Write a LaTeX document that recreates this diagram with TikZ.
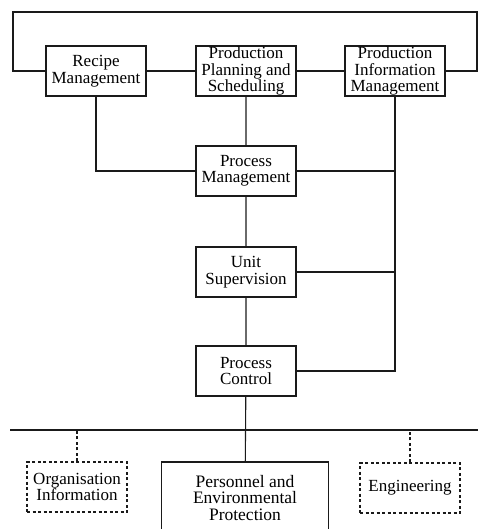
\documentclass[tikz,border=0pt]{standalone}
\usepackage{fontspec}
\setmainfont{Liberation Serif}
\usepackage{tikz}
\usetikzlibrary{positioning}
\definecolor{ink}{HTML}{1A1A1A}

\begin{document}
\begin{tikzpicture}[x=1pt, y=-1pt, line width=1.1pt, draw=ink,
  unitbox/.style={draw=ink, line width=1.1pt, inner sep=0pt, minimum width=100pt, minimum height=50pt, align=center, font=\fontsize{17}{16.5}\selectfont},
  extbox/.style={unitbox, dash pattern=on 3pt off 2.5pt},
  link/.style={draw=ink, line width=1.1pt},
  extlink/.style={link, dash pattern=on 3pt off 2.5pt}]
\useasboundingbox (0,0) rectangle (478,529);

\node[unitbox] (recipe) at (96,71) {Recipe\\Management};
\node[unitbox] (planning) at (246,71) {Production\\Planning and\\Scheduling};
\node[unitbox] (prodinfo) at (395,71) {Production\\Information\\Management};
\node[unitbox] (procmgmt) at (246,171) {Process\\Management};
\node[unitbox] (unitsup) at (246,272) {Unit\\Supervision};
\node[unitbox] (procctrl) at (246,371) {Process\\Control};
\node[unitbox, minimum width=167pt, minimum height=72pt, font=\fontsize{17.5}{16.5}\selectfont] (personnel) at (245,498) {Personnel and\\Environmental\\Protection};
\node[extbox] (orginfo) at (77,487) {Organisation\\Information};
\node[extbox] (engineering) at (410,488) {Engineering};

\coordinate (loopL) at (13,12);
\coordinate (loopR) at (477,12);
\coordinate (busL) at (10,430);
\coordinate (busR) at (478,430);

% top level ring
\draw[link] (recipe.west) -| (loopL) -- (loopR) |- (prodinfo.east);
\draw[link] (recipe) -- (planning) -- (prodinfo);

% vertical chain
\draw[link] (planning) -- (procmgmt) -- (unitsup) -- (procctrl) -- (personnel);
\draw[link] (recipe.south) |- (procmgmt.west);
\draw[link] (prodinfo.south) |- (procctrl.east);
\draw[link] (procmgmt.east) -- (procmgmt.east -| prodinfo.south);
\draw[link] (unitsup.east) -- (unitsup.east -| prodinfo.south);

% bus
\draw[link] (busL) -- (busR);
\draw[extlink] (orginfo.north) -- (orginfo.north |- busL);
\draw[extlink] (engineering.north) -- (engineering.north |- busL);
\end{tikzpicture}
\end{document}
